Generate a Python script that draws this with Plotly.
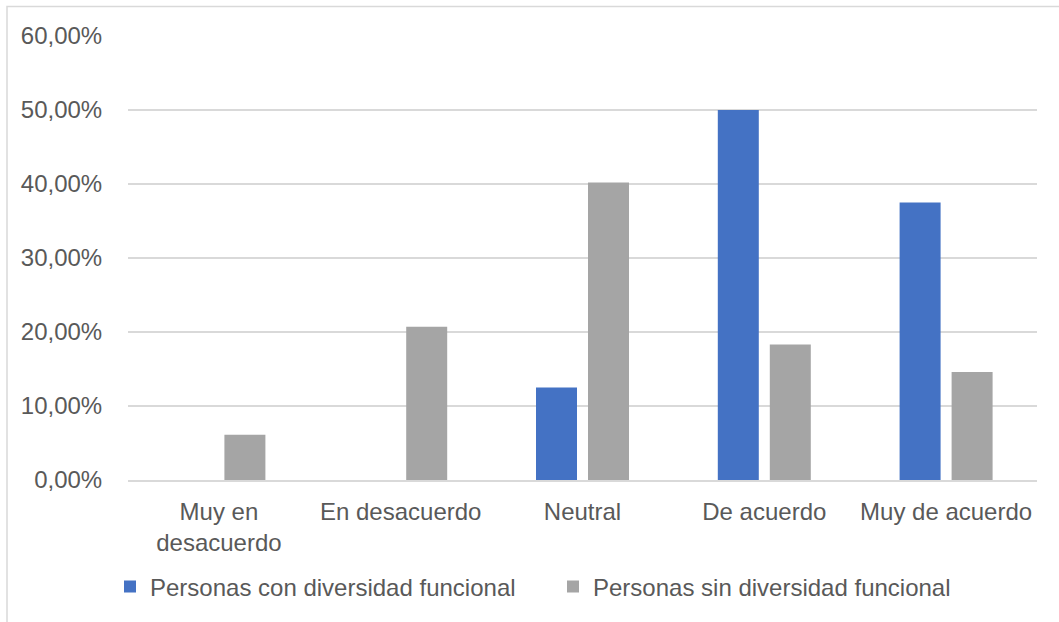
import plotly.graph_objects as go

categories = ["Muy en<br>desacuerdo", "En desacuerdo", "Neutral", "De acuerdo", "Muy de acuerdo"]
con_diversidad = [0.0, 0.0, 0.125, 0.50, 0.375]
sin_diversidad = [0.061, 0.207, 0.402, 0.183, 0.146]
y_ticks = [0, 0.1, 0.2, 0.3, 0.4, 0.5, 0.6]

W, H = 1059, 622
L, R, T, B = 128, 22, 36, 142
pw, ph = W - L - R, H - T - B

text_color = "#595959"
grid_color = "#d9d9d9"
font_family = "Liberation Sans, Arial, sans-serif"
fs = 24

fig = go.Figure()
fig.add_trace(go.Bar(
    x=categories, y=con_diversidad, name="Personas con diversidad funcional",
    marker=dict(color="#4472C4", line=dict(width=0)),
))
fig.add_trace(go.Bar(
    x=categories, y=sin_diversidad, name="Personas sin diversidad funcional",
    marker=dict(color="#A5A5A5", line=dict(width=0)),
))

# outer chart border (left and top edges visible)
fig.add_shape(
    type="rect", xref="paper", yref="paper",
    x0=(7 - L) / pw, x1=1 + (R + 30) / pw,
    y0=-(B + 30) / ph, y1=1 + (T - 6.5) / ph,
    line=dict(color=grid_color, width=1.5), fillcolor="rgba(0,0,0,0)", layer="below",
)

fig.update_layout(
    width=W, height=H,
    margin=dict(l=L, r=R, t=T, b=B),
    paper_bgcolor="white", plot_bgcolor="white",
    separators=",.",
    barmode="group", bargap=0.428, bargroupgap=0.2115,
    font=dict(family=font_family, size=fs, color=text_color),
    showlegend=True,
    legend=dict(
        orientation="h", x=(110 - L) / pw, xanchor="left",
        y=-(587 - (T + ph)) / ph, yanchor="middle",
        entrywidth=398, entrywidthmode="pixels",
        font=dict(size=fs, color=text_color),
        bgcolor="rgba(0,0,0,0)",
    ),
    xaxis=dict(
        showgrid=False, showline=True, linecolor=grid_color, linewidth=1.5,
        ticks="outside", ticklen=9, tickcolor="rgba(0,0,0,0)",
        tickfont=dict(size=fs, color=text_color),
        fixedrange=True,
    ),
    yaxis=dict(
        range=[0, 0.6], tickvals=y_ticks, tickformat=".2%",
        showgrid=True, gridcolor=grid_color, gridwidth=1.5,
        zeroline=False, showline=False,
        ticks="outside", ticklen=20, tickcolor="rgba(0,0,0,0)",
        tickfont=dict(size=fs, color=text_color),
        fixedrange=True,
    ),
)

fig.write_html("out.html", config={"displayModeBar": False})
